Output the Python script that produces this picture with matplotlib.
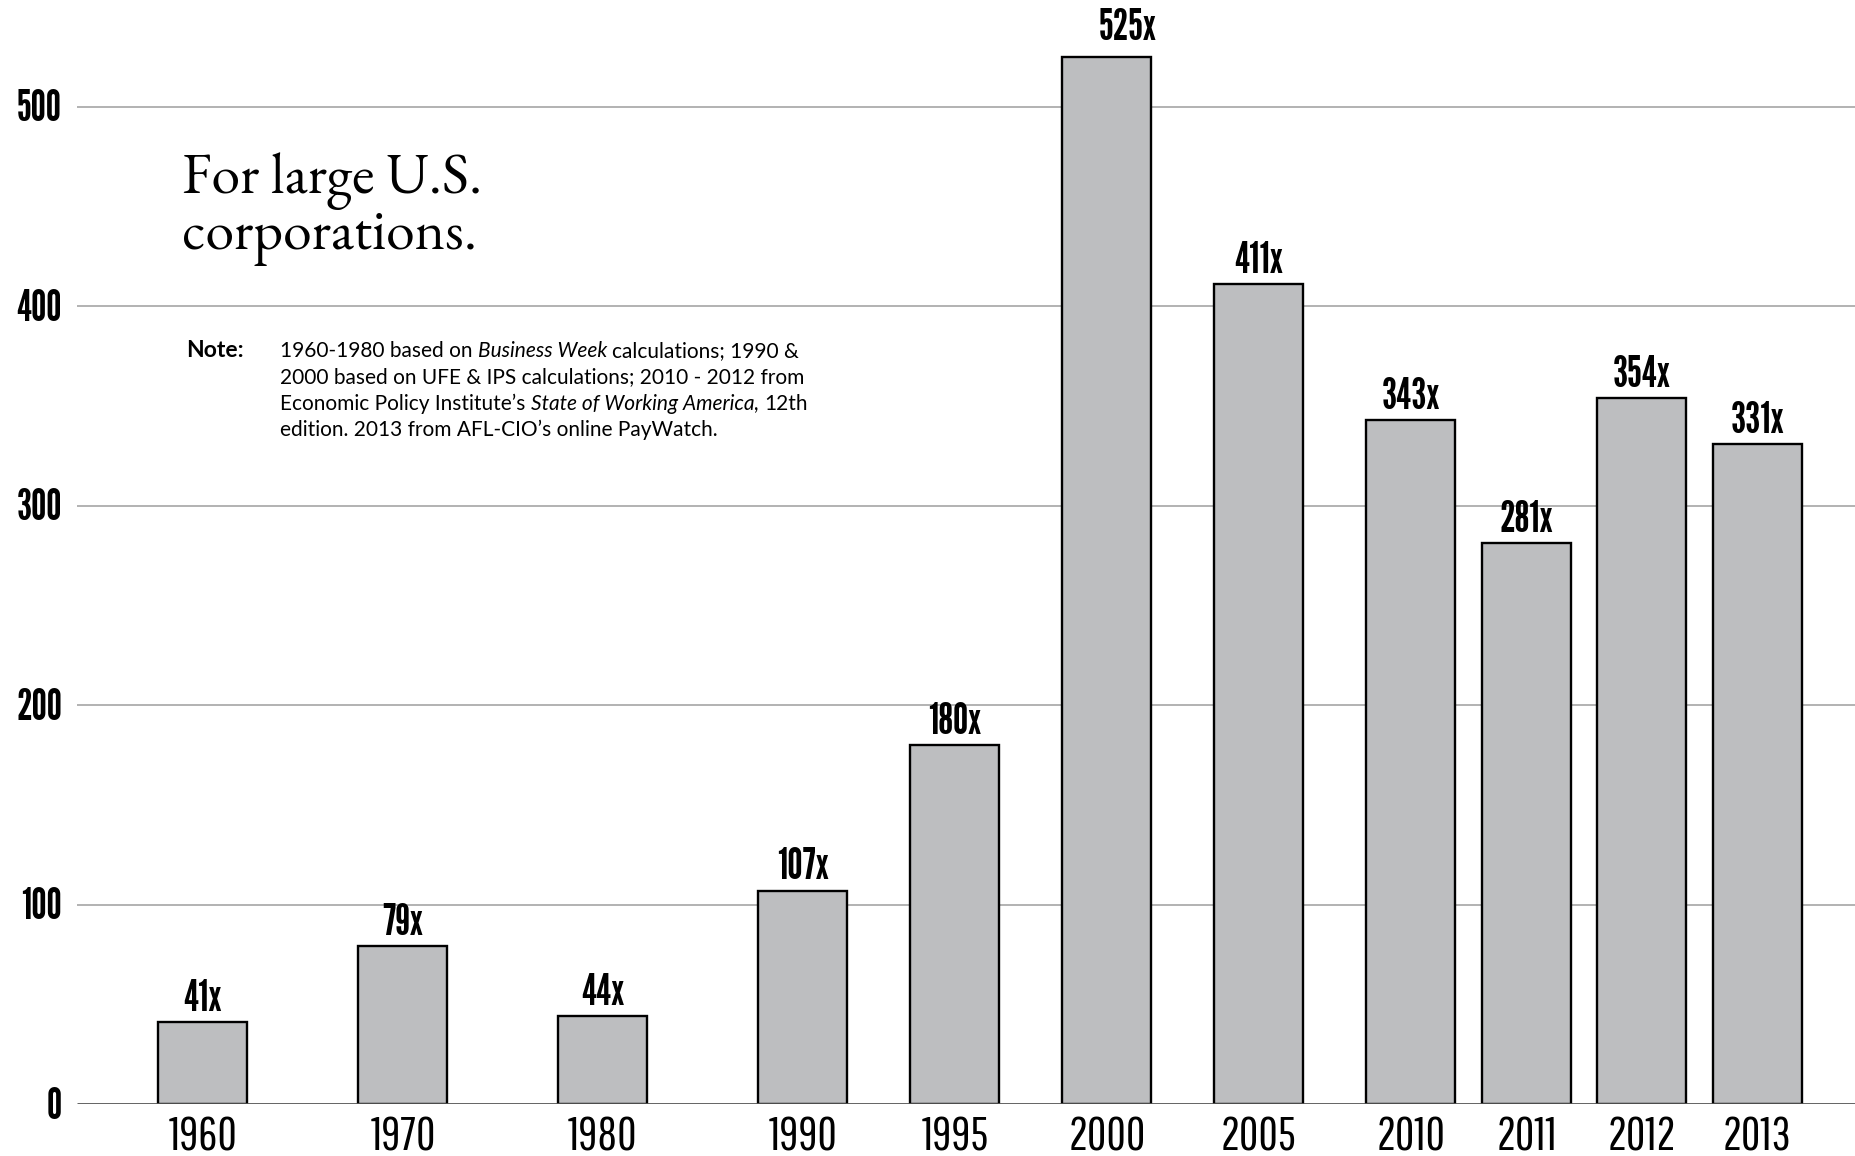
import matplotlib
matplotlib.use("Agg")
import matplotlib.pyplot as plt
from matplotlib.transforms import IdentityTransform

# CEO-to-worker pay ratio by year
years = ["1960", "1970", "1980", "1990", "1995", "2000", "2005", "2010", "2011", "2012", "2013"]
ratios = [41, 79, 44, 107, 180, 525, 411, 343, 281, 354, 331]
y_ticks = [0, 100, 200, 300, 400, 500]

title_lines = ["For large U.S.", "corporations."]
note_label = "Note:"
note_lines = [
    [("1960-1980 based on", "normal"), ("Business Week", "italic"), ("calculations; 1990 &", "normal")],
    [("2000 based on UFE & IPS calculations; 2010 - 2012 from", "normal")],
    [("Economic Policy Institute\u2019s", "normal"), ("State of Working America,", "italic"), ("12th", "normal")],
    [("edition. 2013 from AFL-CIO\u2019s online PayWatch.", "normal")],
]

W, H, DPI = 1856, 1156, 100
LABEL_FONT = ["League Gothic", "DejaVu Sans"]
TICK_FONT = ["Pathway Gothic One", "DejaVu Sans"]
SERIF_FONT = ["EB Garamond", "DejaVu Serif"]
NOTE_FONT = ["Lato", "DejaVu Sans"]
BAR_FILL = "#bdbec0"

fig = plt.figure(figsize=(W / DPI, H / DPI), dpi=DPI)
fig.patch.set_facecolor("white")

# plot area spans the full width; the zero line sits 1104 px from the top
zero_px = 1104
px_per_unit = 1.995
ax = fig.add_axes([0, (H - zero_px) / H, 1, zero_px / H])
ax.set_xlim(0, W)
ax.set_ylim(0, zero_px / px_per_unit)
ax.axis("off")

# slot centres: decades get the widest spacing, single years the narrowest
step = {10: 200.0, 5: 152.0, 1: 115.5}
xs = [203.0]
for a, b in zip(years[:-1], years[1:]):
    xs.append(xs[-1] + step[int(b) - int(a)])

# gridlines and baseline
ax.hlines(y_ticks[1:], 77, W, colors="#b2b2b2", linewidth=1.4, zorder=1)
ax.hlines(0, 77, W, colors="#555555", linewidth=2.0, zorder=4)

ax.bar(xs, ratios, width=89, color=BAR_FILL, edgecolor="black",
       linewidth=1.7, zorder=3)

# value labels; the tallest one sits a little higher and to the right
label_nudge = {"2000": (15, 4)}
for x, v, yr in zip(xs, ratios, years):
    dx, dy = label_nudge.get(yr, (0, 0))
    ax.annotate(f"{v}x", (x, v), xytext=(dx, 8 + dy), textcoords="offset points",
                ha="center", va="baseline", fontsize=31, family=LABEL_FONT,
                color="black", zorder=5, annotation_clip=False)

for x, lab in zip(xs, years):
    ax.annotate(lab, (x, 0), xytext=(0, -33.5), textcoords="offset points",
                ha="center", va="baseline", fontsize=34, family=TICK_FONT,
                color="black", annotation_clip=False)

for v in y_ticks:
    ax.annotate(str(v), (62, v), xytext=(0, -10.5), textcoords="offset points",
                ha="right", va="baseline", fontsize=31, family=LABEL_FONT,
                color="black", annotation_clip=False)

# headline (pixel coordinates, y measured from the top)
px = IdentityTransform()
for i, line in enumerate(title_lines):
    fig.text(182, H - (193 + 56 * i), line, transform=px, fontsize=41.5,
             family=SERIF_FONT, color="black", ha="left", va="baseline")

# source note with mixed roman / italic runs
renderer = fig.canvas.get_renderer()
NOTE_SIZE = 15
probe_a = fig.text(0, 0, "ab", fontsize=NOTE_SIZE, family=NOTE_FONT, transform=px)
probe_b = fig.text(0, 0, "a b", fontsize=NOTE_SIZE, family=NOTE_FONT, transform=px)
space_px = (probe_b.get_window_extent(renderer).width
            - probe_a.get_window_extent(renderer).width)
probe_a.remove()
probe_b.remove()

fig.text(186, H - 357, note_label, transform=px, fontsize=16.5,
         family=NOTE_FONT, fontweight="bold", ha="left", va="baseline")
for i, segs in enumerate(note_lines):
    x = 280.0
    y = H - (357 + 26.5 * i)
    for j, (txt, style) in enumerate(segs):
        if j > 0:
            x += space_px
        t = fig.text(x, y, txt, transform=px, fontsize=NOTE_SIZE,
                     family=NOTE_FONT, style=style, ha="left", va="baseline")
        x = t.get_window_extent(renderer).x1

fig.savefig("out.png", dpi=DPI, facecolor="white")
